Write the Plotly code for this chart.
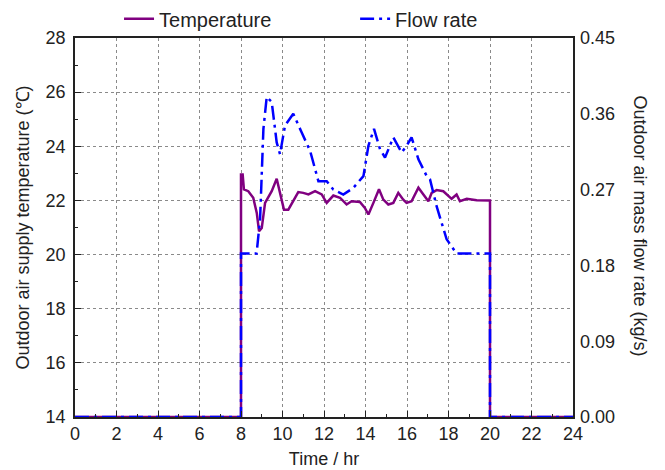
import plotly.graph_objects as go

# Temperature series (°C)
temp_hr = [0, 8, 8, 8.08, 8.14, 8.35, 8.59, 8.76, 8.87, 9.0, 9.16, 9.48, 9.72, 9.88, 10.07, 10.28,
           10.52, 10.76, 11.0, 11.25, 11.57, 11.89, 12.13, 12.45, 12.77, 13.09, 13.33, 13.73, 13.97,
           14.14, 14.38, 14.65, 14.86, 15.1, 15.34, 15.58, 15.82, 15.98, 16.22, 16.55, 16.79, 17.03,
           17.19, 17.43, 17.75, 17.99, 18.15, 18.39, 18.55, 18.88, 19.36, 20.0, 20.0, 24]
temp_val = [14, 14, 22.96, 22.96, 22.41, 22.34, 22.10, 21.54, 20.86, 20.98, 21.91, 22.34, 22.80,
            22.28, 21.66, 21.66, 21.97, 22.31, 22.28, 22.22, 22.34, 22.22, 21.91, 22.18, 22.10,
            21.85, 21.97, 21.94, 21.72, 21.48, 21.91, 22.41, 22.03, 21.85, 21.91, 22.28, 22.03,
            21.91, 21.97, 22.47, 22.22, 21.97, 22.28, 22.38, 22.34, 22.16, 22.06, 22.22, 21.97,
            22.06, 22.01, 22.0, 14, 14]

# Flow rate series (kg/s)
flow_hr = [0, 8, 8, 8.75, 8.92, 9.08, 9.24, 9.48, 9.72, 9.88, 10.12, 10.52, 10.92, 11.33, 11.73,
           12.13, 12.45, 12.93, 13.41, 13.9, 14.14, 14.41, 14.7, 14.94, 15.34, 15.74, 15.98, 16.22,
           16.55, 16.95, 17.11, 17.43, 17.91, 18.39, 20, 20, 24]
flow_val = [0, 0, 0.194, 0.194, 0.235, 0.342, 0.380, 0.374, 0.326, 0.312, 0.346, 0.360, 0.338,
            0.316, 0.280, 0.280, 0.270, 0.264, 0.272, 0.286, 0.322, 0.342, 0.318, 0.308, 0.332,
            0.314, 0.322, 0.332, 0.306, 0.286, 0.282, 0.250, 0.211, 0.194, 0.194, 0, 0]

x_ticks = list(range(0, 25, 2))
y_ticks = list(range(14, 29, 2))
y2_ticks = [0.00, 0.09, 0.18, 0.27, 0.36, 0.45]

FONT = "Liberation Sans, Arial, sans-serif"

fig = go.Figure()
fig.add_trace(go.Scatter(x=temp_hr, y=temp_val, name="Temperature", mode="lines",
                         legend="legend",
                         line=dict(color="#800080", width=2.5)))
fig.add_trace(go.Scatter(x=flow_hr, y=flow_val, name="Flow rate", mode="lines", yaxis="y2",
                         legend="legend2",
                         line=dict(color="#0000ff", width=2.5, dash="14px,5px,3px,5px")))

legend_common = dict(orientation="h", xref="container", yref="container", y=0.96,
                     xanchor="left", yanchor="middle", font=dict(size=20),
                     bgcolor="rgba(0,0,0,0)")

fig.update_layout(
    width=665, height=470,
    margin=dict(l=75, r=92, t=38, b=53, autoexpand=False),
    paper_bgcolor="white", plot_bgcolor="white",
    font=dict(family=FONT, size=18, color="#222"),
    showlegend=True,
    legend=dict(x=0.179, **legend_common),
    legend2=dict(x=0.534, **legend_common),
    xaxis=dict(range=[0, 24], tickvals=x_ticks, ticks="inside", ticklen=6, tickwidth=1,
               tickcolor="#222", showline=True, linecolor="#222", linewidth=1.5, mirror=True,
               showgrid=True, gridcolor="#8a8a8a", griddash="dot", gridwidth=1,
               zeroline=False, tickfont=dict(size=18), automargin=False,
               minor=dict(dtick=1, ticks="inside", ticklen=3, tickcolor="#222", showgrid=False),
               title=dict(text="Time / hr", standoff=9, font=dict(size=18))),
    yaxis=dict(range=[14, 28], tickvals=y_ticks, ticks="inside", ticklen=6, tickwidth=1,
               tickcolor="#222", showline=True, linecolor="#222", linewidth=1.5, mirror=True,
               showgrid=True, gridcolor="#8a8a8a", griddash="dot", gridwidth=1,
               zeroline=False, tickfont=dict(size=18), ticklabelstandoff=4, automargin=False,
               minor=dict(dtick=1, ticks="inside", ticklen=3, tickcolor="#222", showgrid=False),
               title=dict(text="Outdoor air supply temperature (℃)", standoff=11, font=dict(size=18))),
    yaxis2=dict(range=[0, 0.45], tickvals=y2_ticks, tickformat=".2f", overlaying="y",
                side="right", showgrid=False, zeroline=False, ticks="", showline=False,
                tickfont=dict(size=18), ticklabelstandoff=6, automargin=False),
)

fig.add_annotation(text="Outdoor air mass flow rate (kg/s)", textangle=90,
                   xref="paper", yref="paper", x=1.159, y=0.505, showarrow=False,
                   font=dict(size=18, family=FONT, color="#222"))

fig.write_html("out.html")
